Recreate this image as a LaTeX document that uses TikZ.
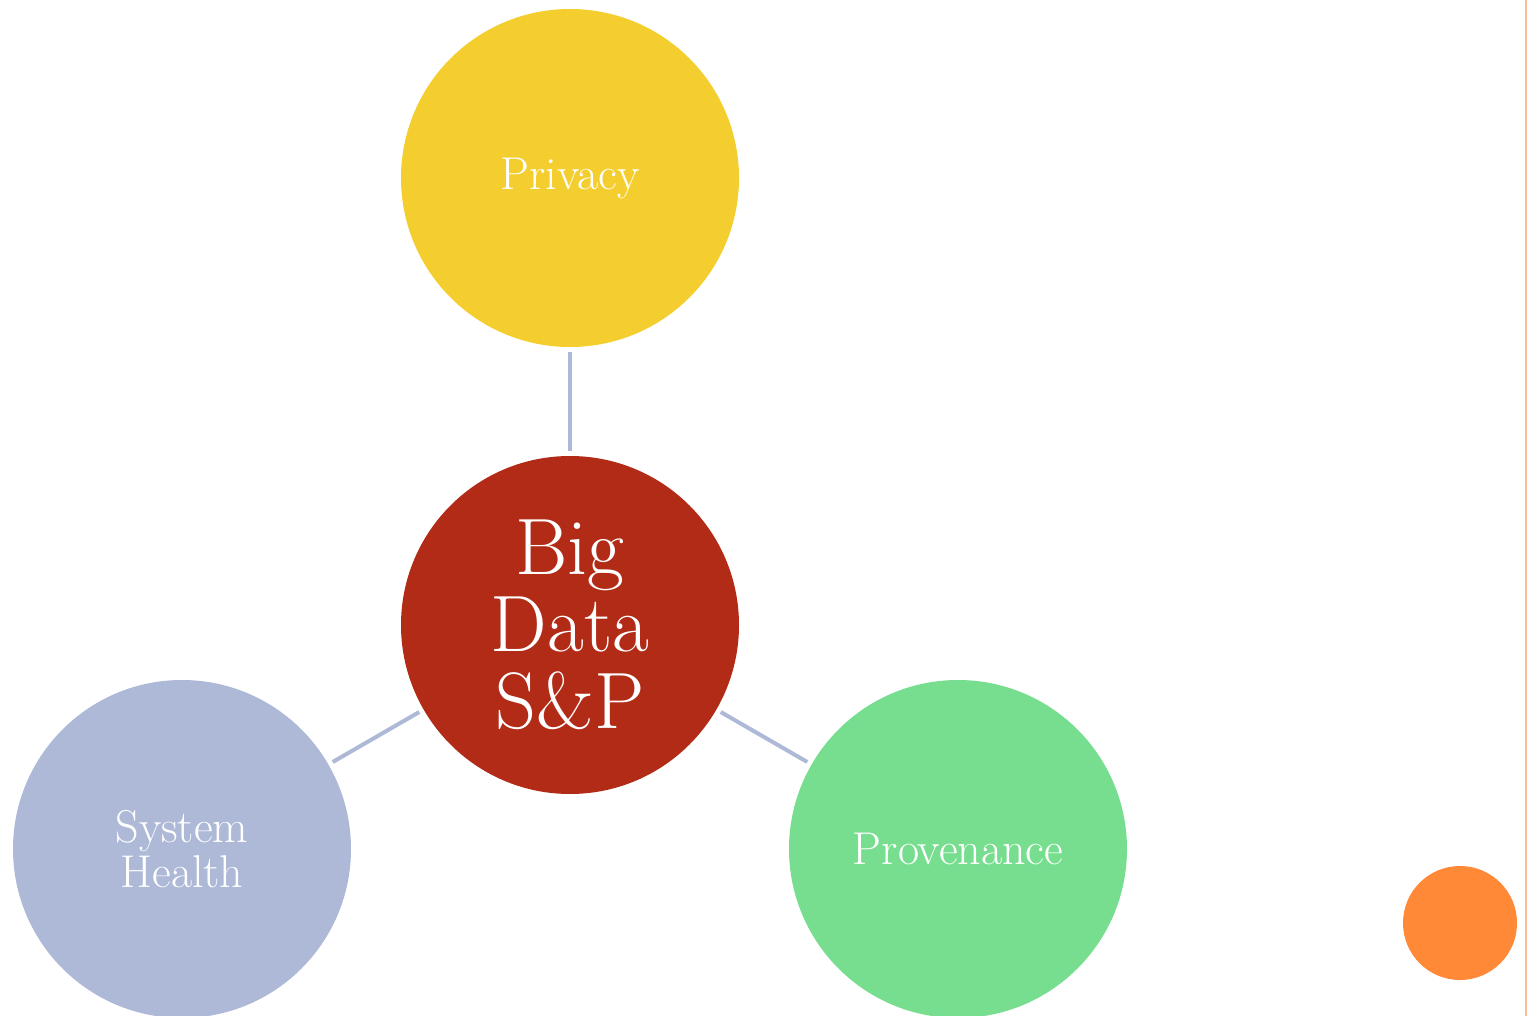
\documentclass[tikz,border=0pt]{standalone}
\begin{document}
\begin{tikzpicture}[x=1pt,y=-1pt,
  bubble/.style={circle,inner sep=0pt,outer sep=5pt,minimum size=338pt,text=white,align=center},
  link/.style={draw=linkcol,line width=4pt}]
\definecolor{yel}{HTML}{F4CE2E}
\definecolor{redc}{HTML}{B12B17}
\definecolor{bluec}{HTML}{ADB9D6}
\definecolor{greenc}{HTML}{78DE8F}
\definecolor{orangec}{HTML}{FF8936}
\definecolor{edgec}{HTML}{FFB89A}
\definecolor{linkcol}{HTML}{ADB9D6}
\useasboundingbox (0,0) rectangle (1527,1016);
\clip (0,0) rectangle (1527,1016);
\node[bubble,fill=yel,font=\fontsize{46}{46}\selectfont] (priv) at (570,178) {Privacy};
\node[bubble,fill=redc,font=\fontsize{80}{77}\selectfont] (big) at (570,625) {Big\\Data\\S\&P};
\node[bubble,fill=bluec,font=\fontsize{46}{45}\selectfont] (sys) at (182,849) {System\\Health};
\node[bubble,fill=greenc,font=\fontsize{46}{46}\selectfont] (prov) at (958,849) {Provenance};
\node[circle,inner sep=0pt,minimum size=114pt,fill=orangec] (dot) at (1460,923) {};
\draw[link] (priv) -- (big);
\draw[link] (big) -- (sys);
\draw[link] (big) -- (prov);
\coordinate (et) at (1526,0);
\coordinate (eb) at (1526,1016);
\draw[draw=edgec,line width=1.5pt] (et) -- (eb);
\end{tikzpicture}
\end{document}
